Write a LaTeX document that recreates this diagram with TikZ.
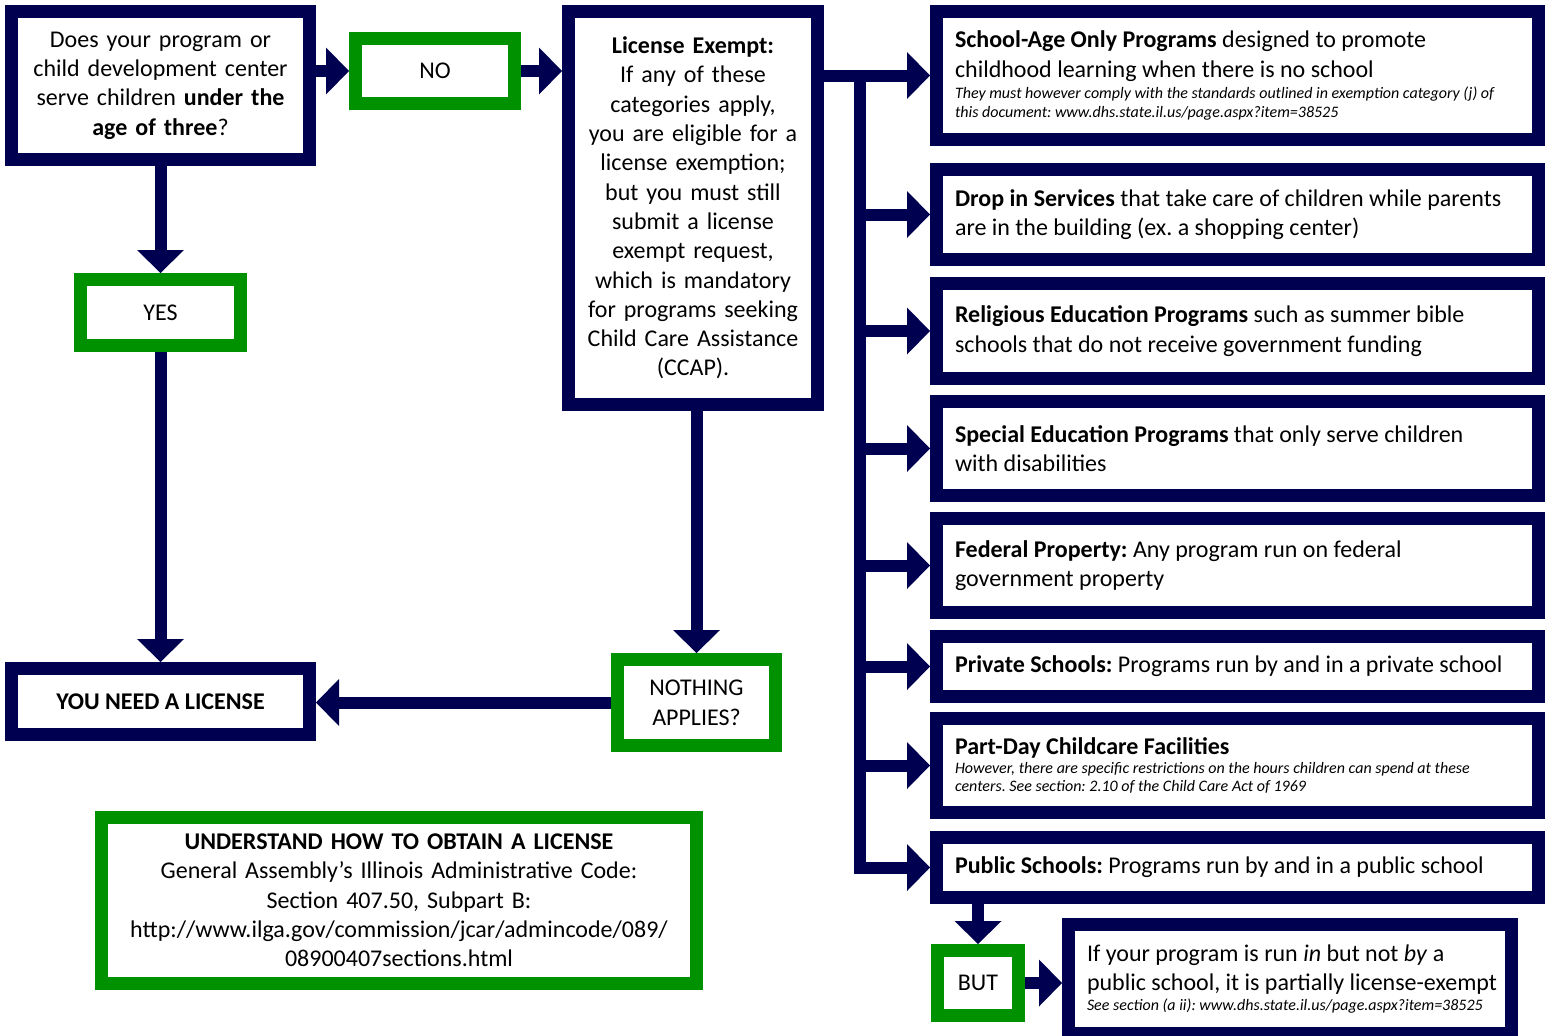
\documentclass[tikz,border=0pt]{standalone}
\usepackage{fontspec}
\setmainfont{Carlito}
\usetikzlibrary{arrows.meta}
\definecolor{navy}{RGB}{0,0,80}
\definecolor{grn}{RGB}{0,145,0}
\newcommand\mainsz{\fontsize{24}{29.3}\selectfont\frenchspacing}
\newcommand\smallit{\fontsize{16}{18.5}\selectfont\itshape\frenchspacing}
\tikzset{
  nbox/.style={draw=navy, line width=13pt, fill=white, inner sep=0pt, outer sep=6.5pt, font=\mainsz},
  gbox/.style={draw=grn, line width=13pt, fill=white, inner sep=0pt, outer sep=6.5pt, align=center, font=\mainsz},
  rbox/.style={nbox, minimum width=602pt, text width=565pt, align=flush left},
  conn/.style={draw=navy, line width=12pt, -{Triangle[width=47pt,length=23pt,line width=0pt 0 0]}},
}
\begin{document}
\begin{tikzpicture}[x=1pt,y=-1pt]
\fill[white] (0,0) rectangle (1548,1036);
\useasboundingbox (0,0) rectangle (1548,1036);

% left column
\node[nbox, minimum width=298pt, minimum height=148pt, text width=280pt, align=center] (q) at (160.5,85.5)
  {Does your program or\\ child development center\\ serve children \textbf{under the}\\ \textbf{age of three}?};
\node[gbox, minimum width=159pt, minimum height=65pt] (no) at (435,71) {NO};
\node[gbox, minimum width=160pt, minimum height=66pt] (yes) at (160.5,312.5) {YES};
\node[nbox, minimum width=298pt, minimum height=66pt, font=\mainsz\bfseries] (need) at (160.5,701.5) {YOU NEED A LICENSE};
\node[nbox, minimum width=249pt, minimum height=393pt, text width=240pt, align=center] (lic) at (693,208)
  {\textbf{License Exempt:}\\ If any of these\\ categories apply,\\ you are eligible for a\\ license exemption;\\ but you must still\\ submit a license\\ exempt request,\\ which is mandatory\\ for programs seeking\\ Child Care Assistance\\ (CCAP).};
\node[gbox, minimum width=158pt, minimum height=86pt, text width=150pt] (nothing) at (696.5,702.5) {NOTHING\\[0.7pt] APPLIES?};
\node[gbox, minimum width=595pt, minimum height=166pt, text width=580pt] (howto) at (399,900.5)
  {\textbf{UNDERSTAND HOW TO OBTAIN A LICENSE}\\ General Assembly’s Illinois Administrative Code:\\ Section 407.50, Subpart B:\\ http://www.ilga.gov/commission/jcar/admincode/089/\\ 08900407sections.html};

% right column
\node[rbox, minimum height=128pt] (school) at (1237.5,75.5)
  {\textbf{School-Age Only Programs} designed to promote\\ childhood learning when there is no school\par\vspace{3pt}
   {\smallit They must however comply with the standards outlined in exemption category (j) of\\ this document: www.dhs.state.il.us/page.aspx?item=38525\par}};
\node[rbox, minimum height=90pt] (drop) at (1237.5,214.5)
  {\textbf{Drop in Services} that take care of children while parents\\ are in the building (ex. a shopping center)};
\node[rbox, minimum height=95pt] (relig) at (1237.5,331)
  {\textbf{Religious Education Programs} such as summer bible\\ schools that do not receive government funding};
\node[rbox, minimum height=94pt] (special) at (1237.5,448.5)
  {\textbf{Special Education Programs} that only serve children\\ with disabilities};
\node[rbox, minimum height=94pt] (federal) at (1237.5,565.5)
  {\textbf{Federal Property:} Any program run on federal\\ government property};
\node[rbox, minimum height=60pt] (private) at (1237.5,666.5)
  {\textbf{Private Schools:} Programs run by and in a private school};
\node[rbox, minimum height=94pt] (partday) at (1237.5,765.5)
  {\textbf{Part-Day Childcare Facilities}\par
   {\smallit However, there are specific restrictions on the hours children can spend at these\\ centers. See section: 2.10 of the Child Care Act of 1969\par}};
\node[rbox, minimum height=60pt] (public) at (1237.5,867.5)
  {\textbf{Public Schools:} Programs run by and in a public school};
\node[gbox, minimum width=81pt, minimum height=65pt] (but) at (978,983) {BUT};
\node[nbox, minimum width=443pt, minimum height=109pt, text width=406pt, align=flush left] (final) at (1290,979)
  {\mbox{If your program is run \textit{in} but not \textit{by} a}\\ \mbox{public school, it is partially license-exempt}\par\vspace{2pt}
   {\smallit \mbox{See section (a ii): www.dhs.state.il.us/page.aspx?item=38525}\par}};

\coordinate (bus) at (860,0);

% connectors
\draw[conn] (q.east |- no.west) -- (no.west);
\draw[conn] (no.east) -- (lic.west |- no.east);
\draw[conn] (q.south) -- (yes.north);
\draw[conn] (yes.south) -- (need.north);
\draw[conn] (lic.south -| nothing.north) -- (nothing.north);
\draw[conn] (nothing.west) -- (nothing.west -| need.east);
\draw[conn] (lic.east |- school.west) -- (school.west);
\draw[conn] (bus |- school.west) -- (bus |- public.west) -- (public.west);
\foreach \n in {drop,relig,special,federal,private,partday}
  \draw[conn] (bus |- \n.west) -- (\n.west);
\draw[conn] (public.south -| but.north) -- (but.north);
\draw[conn] (but.east) -- (but.east -| final.west);
\end{tikzpicture}
\end{document}
